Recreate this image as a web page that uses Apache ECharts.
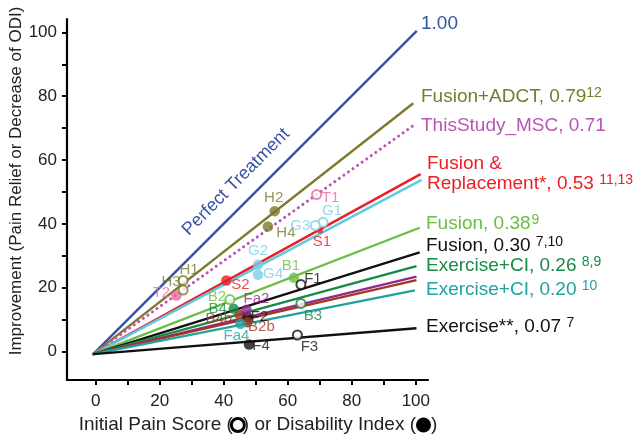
<!DOCTYPE html>
<html><head><meta charset="utf-8">
<script src="https://cdn.jsdelivr.net/npm/echarts@6/dist/echarts.min.js"></script>
<style>html,body{margin:0;padding:0;background:#fff}#c{width:634px;height:436px}</style>
</head><body><div id="c"></div>
<script>
// ---------- data ----------
const xTickValues = [0,10,20,30,40,50,60,70,80,90,100];
const xTickLabels = [0,20,40,60,80,100];
const yTickValues = [0,10,20,30,40,50,60,70,80,90,100];
const yTickLabels = [0,20,40,60,80,100];

const lineNames  = ['Perfect Treatment','Fusion+ADCT','ThisStudy_MSC','Fusion & Replacement','Fusion & Replacement (2)','Fusion 0.38','Fusion 0.30','Exercise+CI 0.26','Exercise+CI (a)','Exercise+CI (b)','Exercise+CI 0.20','Exercise 0.07'];
const lineStartX = [-0.8,-0.8,-0.8,-0.8,-0.8,-0.8,-0.8,-0.8,-0.8,-0.8,-0.8,-0.8];
const lineStartY = [-0.8,-0.8,-0.8,-0.8,-0.8,-0.8,-0.8,-0.8,-0.8,-0.8,-0.8,-0.8];
const lineEndX   = [100.3, 99.2, 99.2, 101.5, 101.8, 101.2, 101.2, 100.2, 100.2, 100.2, 99.7, 100.2];
const lineEndY   = [100.5, 77.8, 70.8, 55.6, 53.8, 38.8, 31.1, 26.8, 23.5, 22.4, 19.2, 7.3];

const pointNames = ['T1','T2','H1','H3','H2','H4','S1','G1','G3','G2','G4','S2','B1','F1','B2','B4','B4b','F2','B2b','Fa4','Fa2','B3','F3','F4'];
const pointX     = [69.0,25.2,27.3,27.3,55.9,53.8,70.0,71.0,68.6,50.7,50.7,40.8,61.9,64.1,41.9,43.1,45.0,47.4,47.4,45.2,47.1,64.1,63.0,47.9];
const pointY     = [49.2,17.6,22.3,19.3,44.0,39.2,37.9,40.5,39.5,27.2,24.1,22.3,23.1,21.0,16.3,13.4,11.5,10.8, 9.2, 8.7,13.1,15.1, 5.2, 2.2];
const pointOpen  = [true,false,true,true,false,false,false,true,true,false,false,false,false,true,true,false,false,false,false,false,false,true,true,false];
const pointGroup = ['pink','pink','olive','olive','olive','olive','red','ltblue','ltblue','ltblue','ltblue','red','ltgreen','black','ltgreen','dkgreen','brown','black','brown','teal','purple','dkgreen','black','black'];

// ---------- styles ----------
const C = {
  blue:'#3553a6', olive:'#7b7a2c', magenta:'#bb55b4', pink:'#ea6a9e', red:'#ee1c25',
  cyan:'#5ec9e2', ltblue:'#7dcfe6', ltgreen:'#6abd45', black:'#111111', dkgreen:'#188a47',
  purple:'#92278f', brown:'#a2381e', teal:'#1fa2a0'
};
const lineColor = [C.blue,C.olive,C.magenta,C.red,C.cyan,C.ltgreen,C.black,C.dkgreen,C.purple,C.brown,C.teal,C.black];
const labelOffset = {
  T1:[14,3], T2:[-15,-3], H1:[6,-11], H3:[-12,-8], H2:[-1,-13], H4:[18,6],
  G1:[9,-11], G3:[-15,0], S1:[2,11], G2:[0,-14], G4:[15,-1], S2:[14,4],
  B1:[-3,-12], F1:[12,-6], B2:[-13,-3], B4:[-16,0], B4b:[-21,4], F2:[12,0],
  B2b:[14,5], Fa4:[-4,12], Fa2:[10,-11], B3:[12,12], F3:[12,12], F4:[12,1]
};
const symbolSizeFor = {S1:6};
const FF = '"Liberation Sans", Arial, sans-serif';

const chart = echarts.init(document.getElementById('c'), null, {renderer:'canvas'});

const lineSeries = lineNames.map((n,i)=>({
  name:n, type:'line', silent:true, symbol:'none', z:2,
  data:[[lineStartX[i],lineStartY[i]],[lineEndX[i],lineEndY[i]]],
  lineStyle: i===2 ? {color:lineColor[i], width:3, type:[0.1,5.5], cap:'round'} : {color:lineColor[i], width:2.4},
  animation:false
}));

const scatterData = pointNames.map((n,i)=>{
  const c = C[pointGroup[i]];
  const off = labelOffset[n];
  return {
    name:n, value:[pointX[i],pointY[i]],
    symbolSize: symbolSizeFor[n] || (pointOpen[i] ? 9 : 10.5),
    itemStyle: pointOpen[i] ? {color:'#fff', borderColor:c, borderWidth:2} : {color:c, borderWidth:0},
    label:{show:true, formatter:n, position:'inside', offset:off, color:c, fontSize:15, fontFamily:FF}
  };
});

function seriesLabel(x,y,main,sup,color,gap){
  const rich = {a:{fontSize:19, fill:color, fontFamily:FF, lineHeight:22},
                s:{fontSize:14, fill:color, fontFamily:FF, verticalAlign:'top', lineHeight:12, padding:[0,0,0,gap||0]}};
  return {type:'text', x:x, y:y, z:10, silent:true,
    style:{text:'{a|'+main+'}' + (sup?'{s|'+sup+'}':''), rich:rich, fontFamily:FF, fontSize:19, verticalAlign:'middle', align:'left'}};
}

chart.setOption({
  animation:false,
  grid:{left:67, right:206, top:19, bottom:56, containLabel:false},
  xAxis:{type:'value', min:-8.97, max:103.8,
    axisLine:{show:true, onZero:false, lineStyle:{color:'#000', width:2.2}},
    axisTick:{show:true, length:5, customValues:xTickValues, lineStyle:{color:'#000', width:2}},
    axisLabel:{customValues:xTickLabels, margin:13, color:'#222', fontSize:17, fontFamily:FF},
    splitLine:{show:false}},
  yAxis:{type:'value', min:-8.9, max:104.2,
    axisLine:{show:true, onZero:false, lineStyle:{color:'#000', width:2.2}},
    axisTick:{show:true, length:5, customValues:yTickValues, lineStyle:{color:'#000', width:2}},
    axisLabel:{customValues:yTickLabels, margin:10, color:'#222', fontSize:17, fontFamily:FF},
    splitLine:{show:false}},
  series: lineSeries.concat([{
    type:'scatter', z:5, data:scatterData, animation:false, silent:true
  }]),
  graphic:[
    seriesLabel(421,24,'1.00',null,C.blue),
    seriesLabel(421,97,'Fusion+ADCT, 0.79','12',C.olive,0),
    seriesLabel(421,126,'ThisStudy_MSC, 0.71',null,C.magenta),
    seriesLabel(427,164,'Fusion &',null,C.red),
    seriesLabel(427,184,'Replacement*, 0.53 ','11,13',C.red,0),
    seriesLabel(426,224,'Fusion, 0.38','9',C.ltgreen,1),
    seriesLabel(426,246,'Fusion, 0.30 ','7,10',C.black,0),
    seriesLabel(426,266,'Exercise+CI, 0.26 ','8,9',C.dkgreen,0),
    seriesLabel(426,290,'Exercise+CI, 0.20 ','10',C.teal,0),
    seriesLabel(426,327,'Exercise**, 0.07 ','7',C.black,0),
    {type:'text', x:236, y:182, rotation:Math.PI/4, z:10, silent:true,
      style:{text:'Perfect Treatment', fill:C.blue, fontSize:18, fontFamily:FF, align:'center', verticalAlign:'middle'}},
    {type:'text', x:16, y:181, rotation:Math.PI/2, z:10, silent:true,
      style:{text:'Improvement (Pain Relief or Decrease of ODI)', fill:'#222', fontSize:17, fontFamily:FF, align:'center', verticalAlign:'middle'}},
    {type:'text', x:258, y:425, z:10, silent:true,
      style:{text:'{t|Initial Pain Score (}{o|}{t|) or Disability Index (}{f|}{t|)}', align:'center', verticalAlign:'middle',
        rich:{t:{fontSize:19, fill:'#222', fontFamily:FF},
              o:{width:10, height:10, borderColor:'#000', borderWidth:3, borderRadius:7, backgroundColor:'#fff'},
              f:{width:15, height:15, backgroundColor:'#000', borderRadius:8}}}}
  ]
});
</script></body></html>
